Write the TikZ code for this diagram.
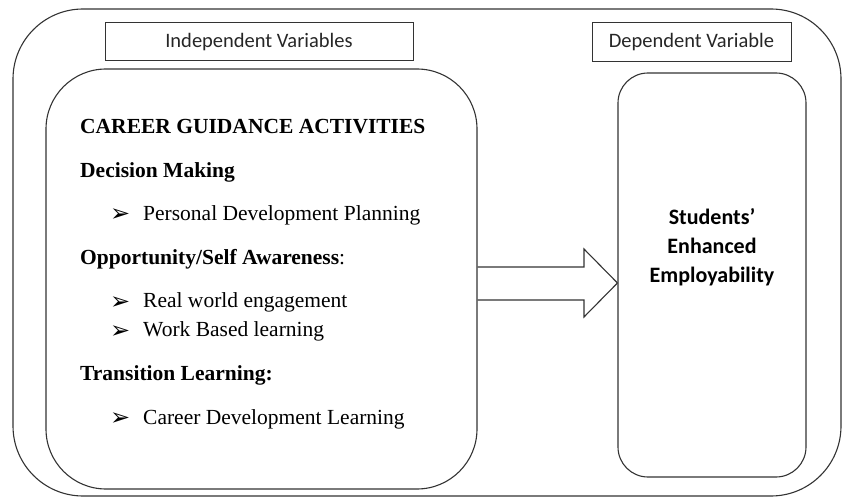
\documentclass[tikz,border=0pt]{standalone}
\usepackage{fontspec}
\setmainfont{Liberation Serif}
\setsansfont{Carlito}
\newfontfamily\symfont{DejaVu Sans}
\begin{document}
\begin{tikzpicture}[x=1pt,y=-1pt,
    roundbox/.style={draw=black!80, line width=1.1pt, inner sep=0pt, rounded corners=#1},
    labelbox/.style={draw=black!80, line width=1pt, inner sep=0pt, text=black!85,
      font=\sffamily\fontsize{20.5}{24}\selectfont},
    heading/.style={anchor=base west, inner sep=0pt, font=\bfseries\fontsize{21.5}{25}\selectfont},
    entry/.style={anchor=base west, inner sep=0pt, font=\fontsize{21.5}{25}\selectfont}]
  \useasboundingbox (0,0) rectangle (844,497);
  % frames
  \node[roundbox=70, minimum width=828, minimum height=487] (outer) at (427,252.5) {};
  \node[labelbox, minimum width=308, minimum height=38] (indep) at (259,42) {Independent Variables};
  \node[labelbox, minimum width=199, minimum height=39] (dep) at (691.5,42.5) {Dependent Variable};
  \node[roundbox=60, minimum width=431, minimum height=420] (cga) at (261.5,279) {};
  \node[roundbox=30, minimum width=188, minimum height=404] (emp) at (712,275) {};
  % left box text
  \node[heading] (title) at (80,134) {CAREER GUIDANCE ACTIVITIES};
  \node[heading] (decision) at (80,178) {Decision Making};
  \node[heading] (aware) at (80,265) {Opportunity/Self Awareness\mdseries:};
  \node[heading] (transition) at (80,380) {Transition Learning:};
  \foreach \y/\txt [count=\i] in {221/Personal Development Planning,
      308/Real world engagement, 337/Work Based learning, 424/Career Development Learning}{
    \node[entry, font=\symfont\fontsize{24}{26}\selectfont] (mark\i) at (110,\y+1) {➢};
    \node[entry] (item\i) at (143,\y) {\txt};
  }
  % right box text
  \node[align=center, font=\sffamily\bfseries\fontsize{22}{29}\selectfont] (result)
    at (emp.center |- 0,247) {Students’\\Enhanced\\Employability};
  % block arrow
  \draw[line width=1.1pt, draw=black!80] (cga.east |- 0,267) -- (584,267) -- (584,249)
    -- (emp.west |- 0,283) -- (584,317) -- (584,300) -- (cga.east |- 0,300);
\end{tikzpicture}
\end{document}
